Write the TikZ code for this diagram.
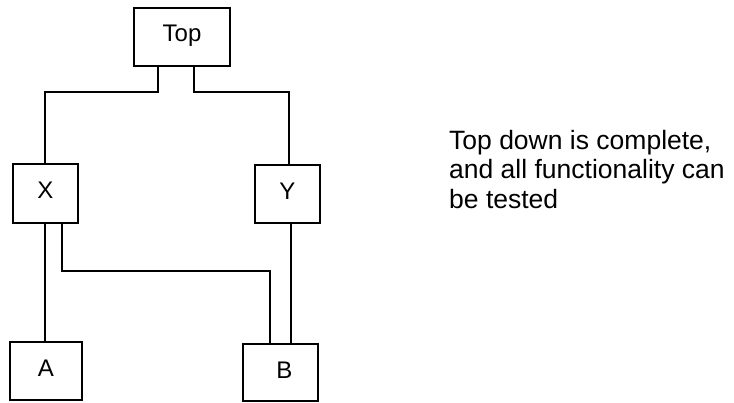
\documentclass[tikz,border=0pt]{standalone}
\usepackage{fontspec}
\setmainfont{Liberation Sans}
\begin{document}
\begin{tikzpicture}[x=1pt,y=-1pt,
  box/.style={draw=black,line width=2.6pt,inner sep=0pt,rectangle},
  lab/.style={anchor=base,inner sep=0pt,font=\fontsize{24}{28}\selectfont},
  conn/.style={draw=black,line width=2.2pt}]
\useasboundingbox (0,0) rectangle (734,402);
% boxes
\node[box,minimum width=96pt,minimum height=58pt] (top) at (182,37) {};
\node[box,minimum width=65pt,minimum height=59pt] (X) at (45.5,193.5) {};
\node[box,minimum width=65pt,minimum height=58pt] (Y) at (287.5,194) {};
\node[box,minimum width=72pt,minimum height=58pt] (A) at (46,371) {};
\node[box,minimum width=75pt,minimum height=57pt] (B) at (280.5,372.5) {};
% labels
\node[lab] (toplab) at (182,41) {Top};
\node[lab] (Xlab) at (45.5,198) {X};
\node[lab] (Ylab) at (287.5,199) {Y};
\node[lab] (Alab) at (46,376) {A};
\node[lab] (Blab) at (284.5,378) {B};
% connectors
\draw[conn] ([xshift=-24pt]top.south) -- ++(0,25) -| ([xshift=-0.5pt]X.north);
\draw[conn] ([xshift=12pt]top.south) -- ++(0,25) -| ([xshift=1.5pt]Y.north);
\draw[conn] ([xshift=-0.5pt]X.south) -- ([xshift=-1pt]A.north);
\draw[conn] ([xshift=16.5pt]X.south) -- ++(0,47) -| ([xshift=-10.5pt]B.north);
\draw[conn] ([xshift=3.5pt]Y.south) -- ([xshift=10.5pt]B.north);
% note
\node[anchor=base west,align=left,inner sep=0pt,font=\fontsize{26.5}{29.5}\selectfont] (note) at (449,208)
  {Top down is complete,\\and all functionality can\\be tested};
\end{tikzpicture}
\end{document}
